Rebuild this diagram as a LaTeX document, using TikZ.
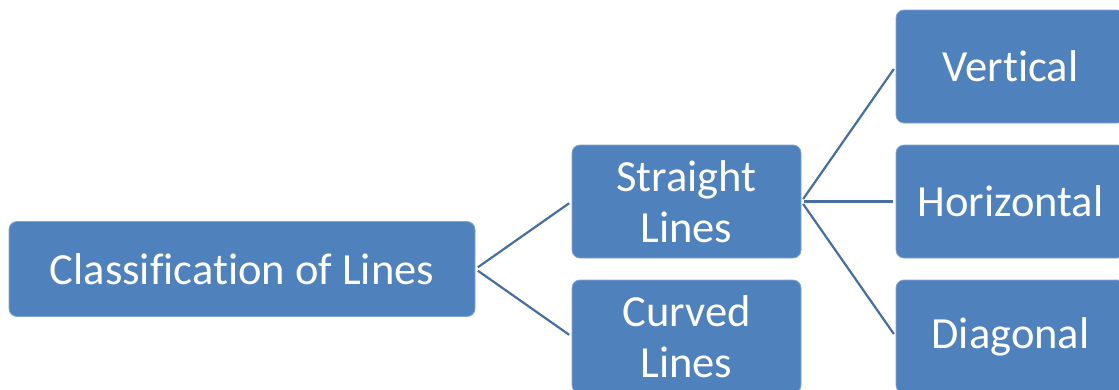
\documentclass[tikz,border=0pt]{standalone}
\usepackage{fontspec}
\setmainfont{Carlito}[Ligatures=NoCommon]
\definecolor{boxfill}{RGB}{79,129,189}
\definecolor{boxedge}{RGB}{130,165,210}
\definecolor{linkcol}{RGB}{70,110,160}
\begin{document}
\begin{tikzpicture}[x=1pt,y=-1pt,
  box/.style={draw=boxedge, line width=0.8pt, fill=boxfill, rounded corners=8pt,
    text=white, align=center, font=\fontsize{44.5}{51}\selectfont,
    inner sep=0pt, minimum width=229pt, minimum height=113pt},
  link/.style={draw=linkcol, line width=2.2pt, shorten <=3pt, shorten >=3pt}]
\useasboundingbox (0,0) rectangle (1119,389);
\clip (0,0) rectangle (1119,389);
\node[box, minimum width=466pt, minimum height=95pt] (root) at (242,269) {Classification of Lines};
\node[box] (straight) at (686.5,201.5) {Straight\\Lines};
\node[box] (curved) at (686.5,336.5) {Curved\\Lines};
\node[box] (vertical) at (1010.5,66.5) {Vertical};
\node[box] (horizontal) at (1010.5,201.5) {Horizontal};
\node[box] (diagonal) at (1010.5,336.5) {Diagonal};
\draw[link] (root.east) -- (straight.west);
\draw[link] (root.east) -- (curved.west);
\draw[link] (straight.east) -- (vertical.west);
\draw[link] (straight.east) -- (horizontal.west);
\draw[link] (straight.east) -- (diagonal.west);
\end{tikzpicture}
\end{document}
